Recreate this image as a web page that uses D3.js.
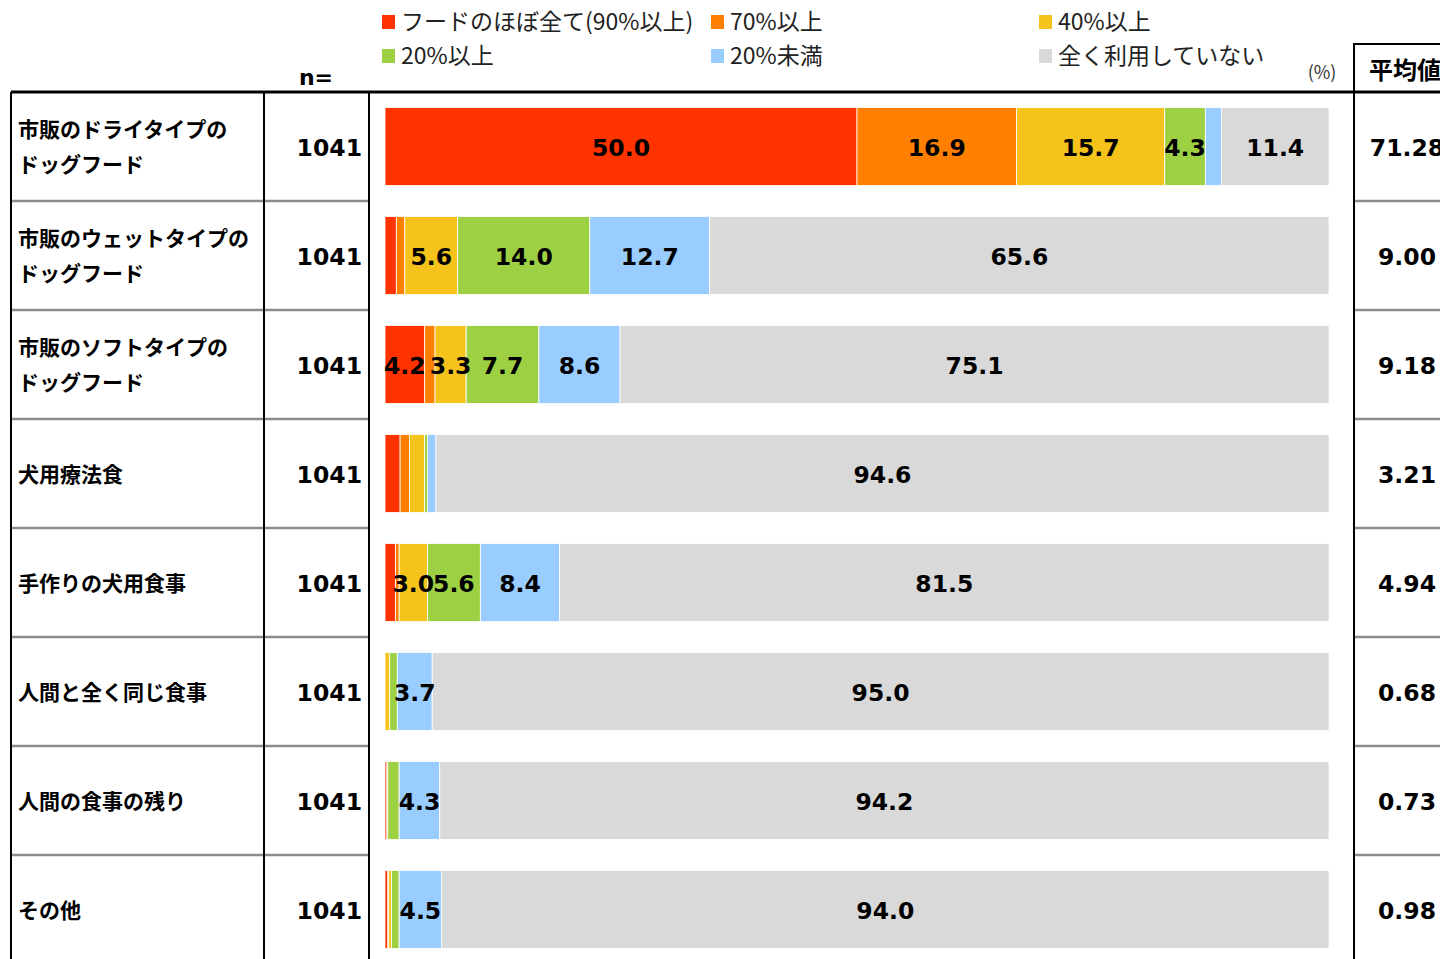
<!DOCTYPE html>
<html><head><meta charset="utf-8">
<script src="https://cdn.jsdelivr.net/npm/d3@7"></script>
<style>body{margin:0;background:#fff;overflow:hidden}svg{display:block}</style>
</head><body>
<svg id="chart" width="1440" height="959"></svg>
<script>
const categories = ["市販のドライタイプの\nドッグフード","市販のウェットタイプの\nドッグフード","市販のソフトタイプの\nドッグフード","犬用療法食","手作りの犬用食事","人間と全く同じ食事","人間の食事の残り","その他"];
const nValues = [1041,1041,1041,1041,1041,1041,1041,1041];
const seriesNames = ["フードのほぼ全て(90%以上)","70%以上","40%以上","20%以上","20%未満","全く利用していない"];
const s90   = [50.0, 1.2, 4.2, 1.6, 1.1, 0.0, 0.2, 0.3];
const s70   = [16.9, 0.9, 1.1, 1.0, 0.4, 0.0, 0.1, 0.1];
const s40   = [15.7, 5.6, 3.3, 1.6, 3.0, 0.5, 0.0, 0.3];
const s20   = [4.3, 14.0, 7.7, 0.3, 5.6, 0.8, 1.2, 0.8];
const sLess = [1.7, 12.7, 8.6, 0.9, 8.4, 3.7, 4.3, 4.5];
const sNone = [11.4, 65.6, 75.1, 94.6, 81.5, 95.0, 94.2, 94.0];
const averages = ["71.28","9.00","9.18","3.21","4.94","0.68","0.73","0.98"];
const colors = ["#ff3300","#ff8000","#f5c31c","#9dd143","#99ccff","#d9d9d9"];

const seriesVals = [s90,s70,s40,s20,sLess,sNone];
const rows = categories.map((c,i)=>{const o={cat:c}; seriesNames.forEach((s,j)=>o[s]=seriesVals[j][i]); return o;});
const stacked = d3.stack().keys(seriesNames)(rows);

const svg = d3.select("#chart");
const num = "'DejaVu Sans', Verdana, sans-serif";
const jp = "'Noto Sans CJK JP', sans-serif";

const x = d3.scaleLinear().domain([0,100]).range([385,1329]);
const rowBand = d3.scaleBand().domain(categories).range([92,964]);
const y = d3.scaleBand().domain(categories).range([92,964]).paddingInner(0.2844).paddingOuter(0.1422);

// bars
const g = svg.append("g");
const gl = svg.append("g");
stacked.forEach((layer,j)=>{
  g.selectAll(null).data(layer).enter().append("rect")
    .attr("x",d=>x(d[0])).attr("width",d=>Math.max(0,x(d[1])-x(d[0])))
    .attr("y",(d,i)=>y(categories[i])).attr("height",y.bandwidth())
    .attr("fill",colors[j]).attr("stroke","#fff").attr("stroke-width",0.8);
  gl.selectAll(null).data(layer.filter(d=>d[1]-d[0]>=3.0)).enter().append("text")
    .attr("x",d=>(x(d[0])+x(d[1]))/2)
    .attr("y",d=>y(d.data.cat)+y.bandwidth()/2+1)
    .attr("text-anchor","middle").attr("dominant-baseline","central")
    .style("font-family",num).style("font-weight","bold").style("font-size","23.5px").attr("fill","#000")
    .text(d=>(d[1]-d[0]).toFixed(1));
});

// table lines
const lines = svg.append("g");
categories.slice(1).forEach(c=>{
  const yy = rowBand(c);
  lines.append("line").attr("x1",11).attr("x2",369).attr("y1",yy).attr("y2",yy).attr("stroke","#8c8c8c").attr("stroke-width",2.5);
  lines.append("line").attr("x1",1354).attr("x2",1440).attr("y1",yy).attr("y2",yy).attr("stroke","#8c8c8c").attr("stroke-width",2.5);
});
lines.append("line").attr("x1",11).attr("x2",1440).attr("y1",92).attr("y2",92).attr("stroke","#000").attr("stroke-width",3);
[[11,92],[264,92],[369,92],[1354,44]].forEach(([xx,y0])=>{
  lines.append("line").attr("x1",xx).attr("x2",xx).attr("y1",y0).attr("y2",959).attr("stroke","#000").attr("stroke-width",2);
});
lines.append("line").attr("x1",1353).attr("x2",1440).attr("y1",44).attr("y2",44).attr("stroke","#000").attr("stroke-width",2);

// row labels
categories.forEach((c,i)=>{
  const parts = c.split("\n");
  const cy = rowBand(c)+rowBand.bandwidth()/2;
  const t = svg.append("text").style("font-family",jp).style("font-weight","bold").style("font-size","21px").attr("fill","#000");
  parts.forEach((p,k)=>{
    t.append("tspan").attr("x",18).attr("y",cy-1+(k-(parts.length-1)/2)*35).attr("dominant-baseline","central").text(p);
  });
  svg.append("text").attr("x",362).attr("y",cy+1).attr("text-anchor","end").attr("dominant-baseline","central")
    .style("font-family",num).style("font-weight","bold").style("font-size","23.5px").text(nValues[i]);
  svg.append("text").attr("x",1407).attr("y",cy+1).attr("text-anchor","middle").attr("dominant-baseline","central")
    .style("font-family",num).style("font-weight","bold").style("font-size","23.5px").text(averages[i]);
});

// headers
svg.append("text").attr("x",316).attr("y",77).attr("text-anchor","middle").attr("dominant-baseline","central")
  .style("font-family",num).style("font-weight","bold").style("font-size","22px").text("n=");
svg.append("text").attr("x",1322).attr("y",71).attr("text-anchor","middle").attr("dominant-baseline","central")
  .style("font-family",jp).style("font-size","18px").attr("fill","#333").text("(%)");
svg.append("text").attr("x",1369).attr("y",68).attr("dominant-baseline","central")
  .style("font-family",jp).style("font-weight","bold").style("font-size","24px").text("平均値");

// legend
const legX = [382,711,1039], legY = [22,56];
seriesNames.forEach((s,j)=>{
  const lx = legX[j%3], ly = legY[Math.floor(j/3)];
  svg.append("rect").attr("x",lx).attr("y",ly-7).attr("width",13).attr("height",14).attr("fill",colors[j]);
  svg.append("text").attr("x",lx+19).attr("y",ly-2).attr("dominant-baseline","central")
    .style("font-family",jp).style("font-size","23px").attr("fill","#222").text(s);
});
</script>
</body></html>
